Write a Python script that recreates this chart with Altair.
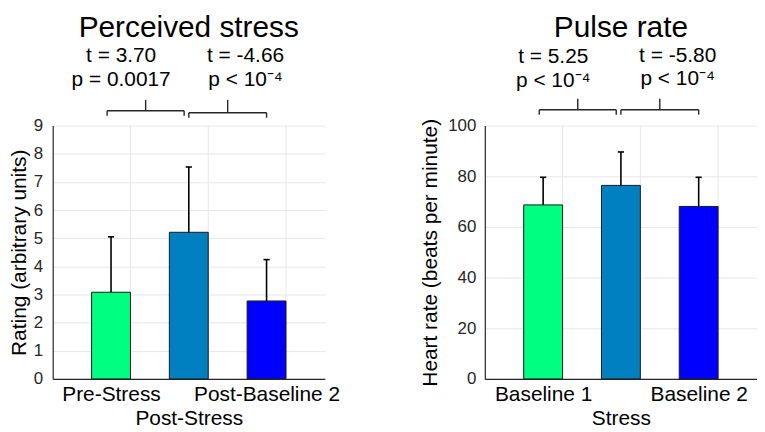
import altair as alt
import pandas as pd

FONT = "Liberation Sans"

# ---------------- data ----------------
stress_labels = ["Pre-Stress", "Post-Stress", "Post-Baseline 2"]
stress_mean = [3.08, 5.21, 2.77]
stress_upper = [5.05, 7.53, 4.24]
stress_t = ["t = 3.70", "t = -4.66"]
stress_p = ["p = 0.0017", "p < 10⁻⁴"]

pulse_labels = ["Baseline 1", "Stress", "Baseline 2"]
pulse_mean = [68.7, 76.4, 68.1]
pulse_upper = [79.6, 89.6, 79.6]
pulse_t = ["t = 5.25", "t = -5.80"]
pulse_p = ["p < 10⁻⁴", "p < 10⁻⁴"]

bar_colors = ["#00FF80", "#0080C0", "#0000FF"]

# bracket spans (x-domain units) and stat label centres
bracket_from = [0.95, 2.0]
bracket_to = [1.94, 3.0]
stat_x = [1.13, 2.73]
grid_x = [1.25, 2.25, 3.25]


def panel(title, labels, means, uppers, tlabels, plabels, ymax, ystep, ytitle,
          t_y, p_y, br_h, br_end, br_top, ylab_pad, ytitle_pad):
    pos = [1, 2, 3]
    bars = pd.DataFrame({
        "label": labels,
        "pos": pos,
        "lo": [p - 0.25 for p in pos],
        "hi": [p + 0.25 for p in pos],
        "cap_lo": [p - 0.04 for p in pos],
        "cap_hi": [p + 0.04 for p in pos],
        "mean": means,
        "upper": uppers,
        "base": [0, 0, 0],
    })
    xscale = alt.Scale(domain=[0.25, 3.75], nice=False, zero=False)
    yscale = alt.Scale(domain=[0, ymax], nice=False)

    label_expr = (f"datum.value == 1 ? '{labels[0]}' : "
                  f"datum.value == 3 ? '{labels[2]}' : ''")
    xaxis = alt.Axis(values=[1, 3], labelExpr=label_expr, title=labels[1],
                     grid=False, ticks=False, labelFontSize=21, titleFontSize=21,
                     labelPadding=5, titlePadding=3, labelColor="black",
                     titleColor="black", titleFontWeight="normal",
                     labelOverlap=False, labelFlush=False,
                     domainColor="#262626", domainWidth=1.2)
    yaxis = alt.Axis(values=list(range(0, ymax + 1, ystep)), title=ytitle,
                     grid=True, gridColor="#e6e6e6", ticks=False,
                     labelFontSize=17, labelColor="#262626", titleFontSize=21,
                     titleColor="black", titleFontWeight="normal",
                     labelPadding=ylab_pad, titlePadding=ytitle_pad,
                     domainColor="#262626", domainWidth=1.2)

    X = lambda f: alt.X(f, scale=xscale, axis=xaxis)
    Y = lambda f: alt.Y(f, scale=yscale, axis=yaxis)

    gdf = pd.DataFrame({"gx": grid_x, "g0": [0] * 3, "g1": [ymax] * 3})
    grid = alt.Chart(gdf).mark_rule(color="#e6e6e6", strokeWidth=1).encode(
        x=X("gx:Q"), y=Y("g0:Q"), y2="g1:Q",
    )

    bar = alt.Chart(bars).mark_bar(stroke="#1a1a1a", strokeWidth=1).encode(
        x=X("lo:Q"), x2="hi:Q", y=Y("mean:Q"), y2="base:Q",
        color=alt.Color("label:N", scale=alt.Scale(domain=labels, range=bar_colors),
                        legend=None),
    )
    err = alt.Chart(bars).mark_rule(color="black", strokeWidth=1.6).encode(
        x=X("pos:Q"), y=Y("mean:Q"), y2="upper:Q",
    )
    cap = alt.Chart(bars).mark_rule(color="black", strokeWidth=1.6).encode(
        x=X("cap_lo:Q"), x2="cap_hi:Q", y=Y("upper:Q"),
    )

    layers = [grid, bar, err, cap]

    rule_style = dict(color="#262626", strokeWidth=1.4)
    for i in range(len(bracket_from)):
        b0, b1 = bracket_from[i], bracket_to[i]
        bdf = pd.DataFrame({"b0": [b0], "b1": [b1], "bc": [(b0 + b1) / 2]})
        layers.append(alt.Chart(bdf).mark_rule(**rule_style).encode(
            x=X("b0:Q"), x2="b1:Q", y=alt.value(br_h[i])))
        for f in ("b0:Q", "b1:Q"):
            layers.append(alt.Chart(bdf).mark_rule(**rule_style).encode(
                x=X(f), y=alt.value(br_h[i]), y2=alt.value(br_end[i])))
        layers.append(alt.Chart(bdf).mark_rule(**rule_style).encode(
            x=X("bc:Q"), y=alt.value(br_top[i]), y2=alt.value(br_h[i])))

    for i in range(len(stat_x)):
        for txt, yy in ((tlabels[i], t_y[i]), (plabels[i], p_y[i])):
            sdf = pd.DataFrame({"sx": [stat_x[i]], "txt": [txt]})
            layers.append(alt.Chart(sdf).mark_text(
                font=FONT, fontSize=21, color="black",
                baseline="alphabetic", align="center").encode(
                x=X("sx:Q"), y=alt.value(yy), text="txt:N"))

    return alt.layer(*layers).properties(
        width=274, height=255,
        title=alt.Title(title, fontSize=30, font=FONT, fontWeight="normal",
                        color="black", anchor="middle", frame="group", offset=2),
    )


left = panel("Perceived stress", stress_labels, stress_mean, stress_upper,
             stress_t, stress_p, 9, 1, "Rating (arbitrary units)",
             t_y=[-64, -64], p_y=[-40, -40],
             br_h=[-15, -13], br_end=[-10, -8], br_top=[-26, -26],
             ylab_pad=10, ytitle_pad=4)
right = panel("Pulse rate", pulse_labels, pulse_mean, pulse_upper,
              pulse_t, pulse_p, 100, 20, "Heart rate (beats per minute)",
              t_y=[-63, -64], p_y=[-39, -41],
              br_h=[-16, -16], br_end=[-11, -11], br_top=[-27, -27],
              ylab_pad=9, ytitle_pad=7)

chart = alt.hconcat(left, right, spacing=161, bounds="flush").properties(
    padding={"top": 4, "left": 0, "right": 0, "bottom": 0}
).configure(
    font=FONT
).configure_view(stroke=None)

chart.save("out.html", embed_options={"renderer": "svg", "actions": False})
